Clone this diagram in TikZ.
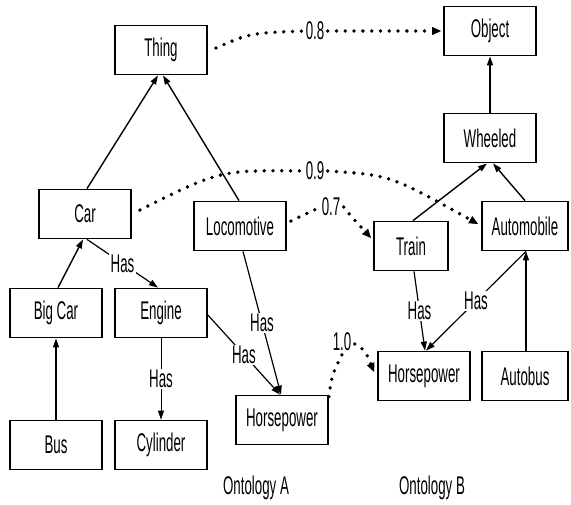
\documentclass[tikz,border=0pt]{standalone}
\usepackage{fontspec}
\setmainfont{Liberation Sans}[FakeStretch=0.52]
\usetikzlibrary{arrows.meta}
\begin{document}
\begin{tikzpicture}[x=0.5pt,y=-0.5pt,
  txt/.style={font=\fontsize{12.8}{14}\selectfont},
  box/.style={txt,draw,line width=0.9pt,minimum width=46pt,minimum height=24.5pt,inner sep=0pt},
  isa/.style={line width=0.7pt,-{Triangle[length=4.5pt,width=3pt]}},
  has/.style={line width=0.6pt,-{Triangle[length=4.5pt,width=3pt]}},
  lbl/.style={txt,fill=white,inner sep=0.6pt},
  dotl/.style={line width=1.9pt,line cap=round,dash pattern=on 0pt off 4.4pt},
  dota/.style={dotl,-{Triangle[length=4.5pt,width=4pt,line width=0.5pt]}}]
\useasboundingbox (0,0) rectangle (571,504);
% Ontology A
\node[box] (thing) at (161,50) {Thing};
\node[box] (car) at (85,214) {Car};
\node[box] (loco) at (240,226) {Locomotive};
\node[box] (bigcar) at (56,313) {Big Car};
\node[box] (engine) at (161,313) {Engine};
\node[box] (bus) at (56,445) {Bus};
\node[box] (cyl) at (161,445) {Cylinder};
\node[box] (hpa) at (282,420) {Horsepower};
% Ontology B
\node[box] (obj) at (490,31) {Object};
\node[box] (wheel) at (490,138) {Wheeled};
\node[box,minimum width=43pt] (auto) at (525,226) {Automobile};
\node[box,minimum width=37pt] (train) at (411,246) {Train};
\node[box] (hpb) at (424,376) {Horsepower};
\node[box,minimum width=43pt] (autobus) at (525,376) {Autobus};
% captions
\node[txt] (onta) at (256,488) {Ontology A};
\node[txt] (ontb) at (432,488) {Ontology B};
% is-a links
\draw[isa] ([xshift=1pt]car.north) -- ([xshift=-1.5pt]thing.south);
\draw[isa] ([xshift=-0.5pt]loco.north) -- ([xshift=1pt]thing.south);
\draw[isa] (wheel.north) -- (obj.south);
\draw[isa] ([xshift=1pt]train.north) -- ([xshift=-1.5pt]wheel.south);
\draw[isa] (auto.north) -- ([xshift=1.5pt]wheel.south);
\draw[isa] ([xshift=1pt]bigcar.north) -- ([xshift=-1pt]car.south);
\draw[isa] (bus.north) -- (bigcar.south);
\draw[isa] ([xshift=0.5pt]autobus.north) -- ([xshift=0.5pt]auto.south);
% has links
\draw[has] ([xshift=1pt]car.south) -- node[lbl]{Has} ([xshift=-1.5pt]engine.north);
\draw[has,line width=0.4pt] (engine.south) -- node[lbl]{Has} (cyl.north);
\draw[has] ([yshift=-1pt]engine.east) -- node[lbl]{Has} ([xshift=-1pt]hpa.north);
\draw[has] ([xshift=1.5pt]loco.south) -- node[lbl]{Has} ([xshift=-0.5pt]hpa.north);
\draw[has] ([xshift=1.5pt]train.south) -- node[lbl]{Has} ([xshift=0.5pt]hpb.north);
\draw[has] ([xshift=0.5pt]auto.south) -- node[lbl]{Has} ([xshift=1pt]hpb.north);
% mappings
\node[txt,inner sep=0.5pt] (l08) at (315,31) {0.8};
\node[txt,inner sep=0.5pt] (l09) at (315,171) {0.9};
\node[txt,inner sep=0.5pt] (l07) at (331,207) {0.7};
\node[txt,inner sep=0.5pt] (l10) at (342,342) {1.0};
\draw[dotl] ([xshift=4pt,yshift=1pt]thing.east) .. controls (250,33) .. (l08.west);
\draw[dota] ([xshift=1pt]l08.east) -- ([xshift=-1pt]obj.west);
\draw[dotl] ([xshift=4pt,yshift=2pt]car.east) .. controls (220,170) .. (l09.west);
\draw[dota] ([xshift=1pt]l09.east) .. controls (390,175) .. ([xshift=-1.5pt,yshift=1pt]auto.west);
\draw[dotl] ([xshift=2pt,yshift=2.5pt]loco.east) -- (l07.west);
\draw[dota] ([xshift=1pt]l07.east) .. controls (350,215) .. ([xshift=-1pt,yshift=4pt]train.west);
\draw[dotl] ([yshift=-1pt]hpa.north east) .. controls (332,375) .. ([yshift=-1pt]l10.south);
\draw[dota] ([xshift=1pt,yshift=-1pt]l10.east) .. controls (365,350) .. ([xshift=-1.5pt,yshift=2pt]hpb.west);
\end{tikzpicture}
\end{document}
